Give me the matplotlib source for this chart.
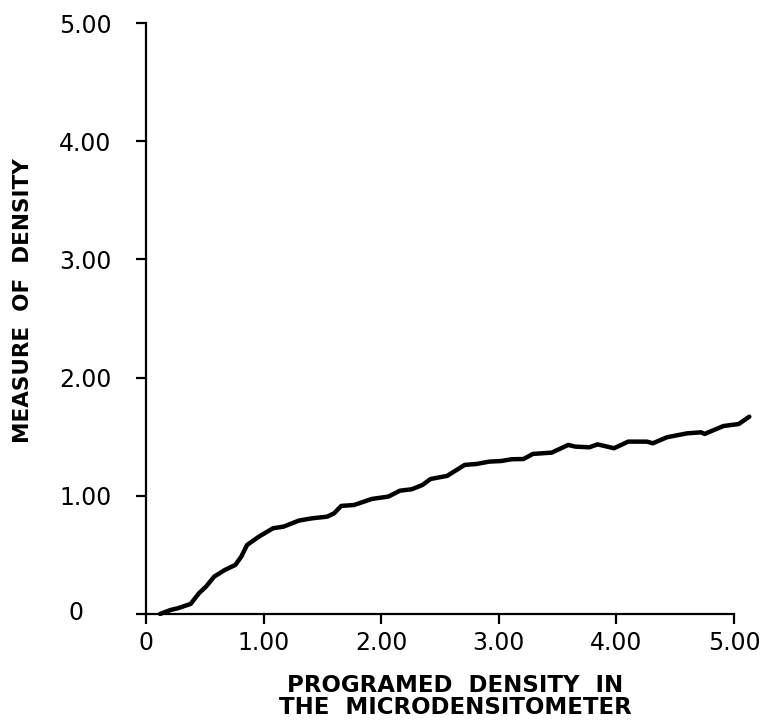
import matplotlib
matplotlib.use("Agg")
import matplotlib.pyplot as plt
from matplotlib.transforms import ScaledTranslation

# ---- data ----
programmed_density = [0.12, 0.21, 0.27, 0.38, 0.45, 0.51, 0.58, 0.67, 0.76, 0.81,
                      0.86, 0.96, 1.08, 1.17, 1.30, 1.41, 1.54, 1.60, 1.66, 1.77,
                      1.92, 2.06, 2.16, 2.26, 2.35, 2.42, 2.56, 2.71, 2.81, 2.92,
                      3.02, 3.11, 3.21, 3.29, 3.45, 3.59, 3.65, 3.77, 3.84, 3.98,
                      4.10, 4.26, 4.31, 4.43, 4.60, 4.72, 4.75, 4.91, 5.04, 5.13]
measured_density = [0.00, 0.034, 0.048, 0.085, 0.175, 0.231, 0.316, 0.372, 0.415, 0.485,
                    0.584, 0.654, 0.725, 0.739, 0.790, 0.809, 0.823, 0.852, 0.914, 0.922,
                    0.973, 0.993, 1.043, 1.055, 1.091, 1.142, 1.168, 1.261, 1.269, 1.289,
                    1.294, 1.309, 1.311, 1.354, 1.365, 1.430, 1.416, 1.410, 1.435, 1.402,
                    1.458, 1.458, 1.444, 1.495, 1.528, 1.537, 1.523, 1.590, 1.607, 1.669]

x_ticks = [0, 1, 2, 3, 4, 5]
x_tick_labels = ["0", "1.00", "2.00", "3.00", "4.00", "5.00"]
y_ticks = [0, 1, 2, 3, 4, 5]
y_tick_labels = ["0", "1.00", "2.00", "3.00", "4.00", "5.00"]

x_label_lines = ["PROGRAMED  DENSITY  IN", "THE  MICRODENSITOMETER"]
y_label = "MEASURE  OF  DENSITY"

# ---- figure ----
W, H = 764, 723
fig = plt.figure(figsize=(W / 100, H / 100), dpi=100)
ax = fig.add_axes([134 / W, 1 - 624 / H, 618 / W, 614 / H])
ax.set_xlim(-0.102, 5.153)
ax.set_ylim(-0.085, 5.11)

ax.plot(programmed_density, measured_density, color="black", lw=3.2,
        solid_joinstyle="round", solid_capstyle="round", clip_on=False)

for s in ["top", "right"]:
    ax.spines[s].set_visible(False)
ax.spines["left"].set_position(("data", 0))
ax.spines["bottom"].set_position(("data", 0))
ax.spines["left"].set_bounds(0, 5)
ax.spines["bottom"].set_bounds(0, 5)
for s in ["left", "bottom"]:
    ax.spines[s].set_linewidth(1.6)

font_ticks = dict(family="DejaVu Sans", size=17)
ax.set_xticks(x_ticks)
ax.set_xticklabels(x_tick_labels, **font_ticks)
ax.set_yticks(y_ticks)
ax.set_yticklabels(y_tick_labels, **font_ticks)
ax.tick_params(axis="x", direction="out", length=7, width=1.6, pad=5)
ax.tick_params(axis="y", direction="out", length=7, width=1.6, pad=18)

# the "0" label on the y axis sits further left in the reference
for lab in ax.get_yticklabels():
    if lab.get_text() == "0":
        lab.set_transform(lab.get_transform() + ScaledTranslation(-0.28, 0.03, fig.dpi_scale_trans))

# axis titles
fig.text(23 / W, 1 - 301 / H, y_label, rotation=90, ha="center", va="center",
         fontsize=15.5, fontweight="bold", family="DejaVu Sans")
fig.text(455 / W, 1 - 686 / H, x_label_lines[0], ha="center", va="center",
         fontsize=16.5, fontweight="bold", family="DejaVu Sans")
fig.text(455 / W, 1 - 708 / H, x_label_lines[1], ha="center", va="center",
         fontsize=16.5, fontweight="bold", family="DejaVu Sans")

fig.savefig("out.png", dpi=100, facecolor="white")
